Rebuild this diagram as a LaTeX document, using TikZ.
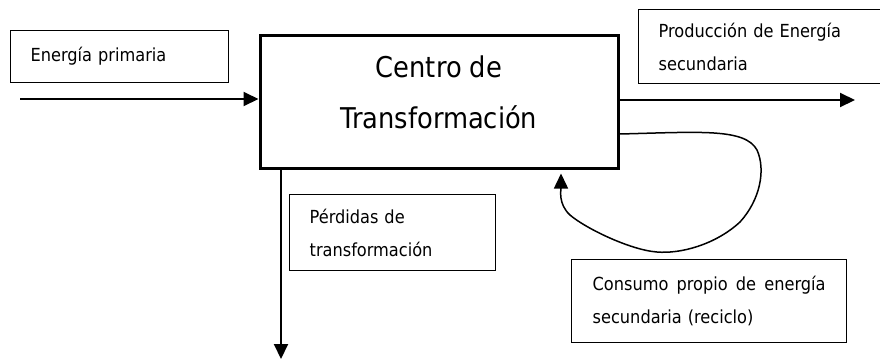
\documentclass[tikz,border=0pt]{standalone}
\usepackage{fontspec}
\setmainfont{DejaVu Sans Condensed}
\usetikzlibrary{arrows.meta,calc}
\begin{document}
\begin{tikzpicture}[x=1pt,y=-1pt,
  lbl/.style={draw, line width=1.3pt, inner xsep=20pt, inner ysep=0pt, align=left, anchor=north west, font=\fontsize{18}{33}\selectfont},
  tip/.style={-{Triangle[length=15pt,width=14pt]}},
  flow/.style={line width=2pt, tip},
  loopline/.style={line width=1.5pt, tip}]
\clip (0,0) rectangle (880,360);
\fill[white] (0,0) rectangle (880,360);
% main box
\node[draw, line width=3pt, minimum width=358pt, minimum height=133pt, inner sep=0pt] (main) at (439,101.5) {};
\node[font=\fontsize{28.6}{51}\selectfont, align=center] (maintxt) at (439,92.5) {Centro de\\Transformación};
% label boxes
\node[lbl, minimum width=218pt, minimum height=52pt, text width=178pt] (prim) at (10,30) {Energía primaria};
\node[lbl, minimum width=260pt, minimum height=74pt, text width=220pt] (prod) at (638,9) {Producción de Energía\\secundaria};
\node[lbl, minimum width=206pt, minimum height=76pt, text width=166pt] (perd) at (289,194) {Pérdidas de\\transformación};
\node[lbl, minimum width=275pt, minimum height=83pt, text width=233pt, inner xsep=21pt] (cons) at (571,259) {\hbox to 233pt{Consumo\hfill propio\hfill de\hfill energía}\\secundaria (reciclo)};
% connectors
\coordinate (in0) at (20,99);
\draw[flow] (in0) -- (in0 -| main.west);
\coordinate (out1) at (855,100);
\draw[flow] (out1 -| main.east) -- (out1);
\coordinate (loss) at (281,359);
\draw[flow] (loss |- main.south) -- (loss);
\coordinate (lpS) at (main.east |- 0,134);
\coordinate (lpE) at ($(main.south -| 561,0)+(0,4)$);
\draw[loopline] (lpS) .. controls (700,132) and (745,128) .. (757,150)
  .. controls (766,170) and (760,200) .. (740,222)
  .. controls (715,245) and (680,254) .. (657,252)
  .. controls (630,250) and (585,228) .. (570,215)
  .. controls (558,204) and (561,190) .. (lpE);
\end{tikzpicture}
\end{document}
